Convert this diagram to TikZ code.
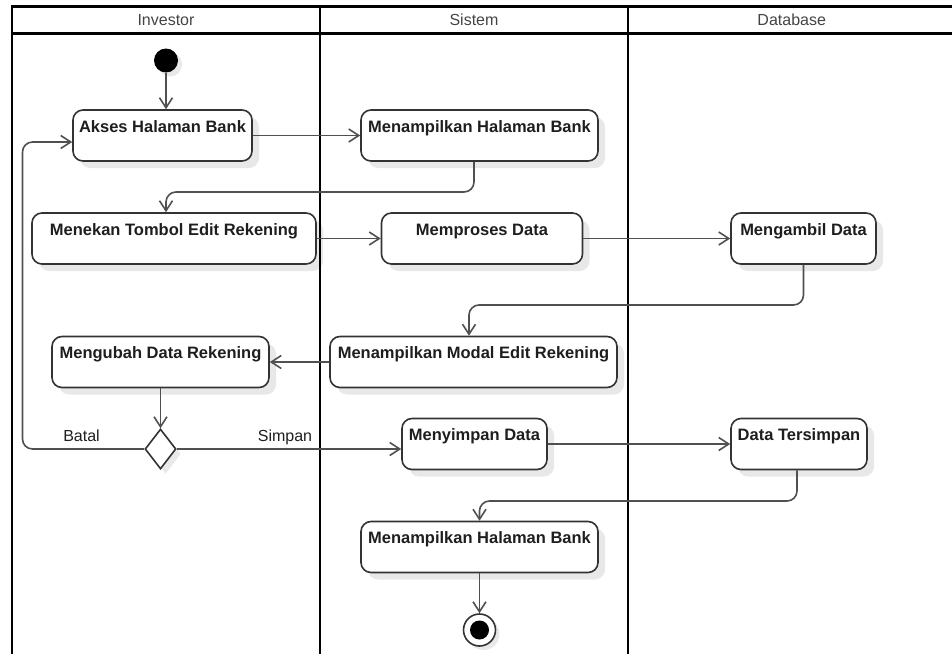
\documentclass[tikz,border=0pt]{standalone}
\usepackage{fontspec}
\setmainfont{Liberation Sans}
\usetikzlibrary{arrows.meta,shapes.geometric,shadows}
\definecolor{boxc}{HTML}{333333}
\definecolor{linec}{HTML}{505050}
\definecolor{txtc}{HTML}{1E1E1E}
\definecolor{headc}{HTML}{444444}
\definecolor{shadc}{HTML}{E8E8E8}

\begin{document}
\begin{tikzpicture}[x=1pt,y=-1pt,
  lane/.style={draw=black,line width=2.8pt},
  headtext/.style={font=\fontsize{16}{19}\selectfont,text=headc,anchor=base,inner sep=0pt},
  guard/.style={font=\fontsize{16}{19}\selectfont,text=txtc,anchor=base,inner sep=0pt},
  shade/.style={drop shadow={shadow xshift=#1,shadow yshift=-#1,fill=shadc,opacity=1}},
  act/.style={draw=boxc,line width=1.6pt,rounded corners=10pt,fill=white,
    font=\fontsize{16.5}{20}\selectfont\bfseries,text=txtc,
    inner xsep=0pt,inner ysep=0pt,text height=22pt,text depth=29pt,
    minimum height=51pt,shade=7pt},
  decide/.style={diamond,draw=boxc,line width=1.6pt,fill=white,
    minimum width=31pt,minimum height=40pt,inner sep=0pt,shade=5pt},
  startdot/.style={circle,fill=black,minimum size=24pt,inner sep=0pt,shade=4pt},
  endring/.style={circle,draw=boxc,line width=1.6pt,fill=white,minimum size=32pt,inner sep=0pt,shade=4pt},
  enddot/.style={circle,fill=black,minimum size=19pt,inner sep=0pt},
  flow/.style={draw=linec,line width=1.6pt,rounded corners=10pt,
    -{Straight Barb[length=10pt,width=13pt]}}
]
\useasboundingbox (0,0) rectangle (952,653);
\clip (0,0) rectangle (952,653);

% activities
\node[startdot] (start) at (166,60.5) {};
\node[act,minimum width=179pt] (akses) at (162.5,135.5) {Akses Halaman Bank};
\node[act,minimum width=237pt] (tampilA) at (479.5,135.5) {Menampilkan Halaman Bank};
\node[act,minimum width=284pt] (tekan) at (174,238.5) {Menekan Tombol Edit Rekening};
\node[act,minimum width=201pt] (proses) at (482,238.5) {Memproses Data};
\node[act,minimum width=145pt] (ambil) at (803.5,238.5) {Mengambil Data};
\node[act,minimum width=217pt] (ubah) at (160.5,362) {Mengubah Data Rekening};
\node[act,minimum width=287pt] (modal) at (473.5,362) {Menampilkan Modal Edit Rekening};
\node[decide] (pilih) at (160.5,449) {};
\node[act,minimum width=145pt] (simpan) at (474.5,444) {Menyimpan Data};
\node[act,minimum width=136pt] (tersimpan) at (799,444) {Data Tersimpan};
\node[act,minimum width=237pt] (tampilB) at (479.5,547) {Menampilkan Halaman Bank};
\node[endring] (stop) at (479.5,630) {};
\node[enddot] (stopcore) at (stop.center) {};

% swimlanes
\draw[lane] (12,6.7) -- (960,6.7);
\draw[lane] (12,33.7) -- (960,33.7);
\draw[lane] (12,5.3) -- (12,660);
\draw[lane] (320,5.3) -- (320,660);
\draw[lane] (628,5.3) -- (628,660);
\node[headtext] (hInv) at (166,25) {Investor};
\node[headtext] (hSis) at (474,25) {Sistem};
\node[headtext] (hDb) at (791.7,25) {Database};

% guards
\node[guard] (gBatal) at (81.5,441) {Batal};
\node[guard] (gSimpan) at (285,441) {Simpan};

% bend points
\coordinate (k1) at (474,192);
\coordinate (k2) at (166,192);
\coordinate (m1) at (803.5,305);
\coordinate (m2) at (469,305);
\coordinate (b1) at (22.5,449);
\coordinate (b2) at (22.5,142);
\coordinate (t1) at (797,501);
\coordinate (t2) at (479.5,501);

% control flow
\draw[flow] (start) -- (start |- akses.north);
\draw[flow] (akses) -- (tampilA);
\draw[flow] (tampilA.south -| k1) -- (k1) -- (k2) -- (k2 |- tekan.north);
\draw[flow] (tekan) -- (proses);
\draw[flow] (proses) -- (ambil);
\draw[flow] (ambil.south) -- (m1) -- (m2) -- (m2 |- modal.north);
\draw[flow] (modal) -- (ubah);
\draw[flow] (ubah) -- (pilih);
\draw[flow] (pilih.west) -- (b1) -- (b2) -- (b2 -| akses.west);
\draw[flow] (pilih.east) -- (pilih.east -| simpan.west);
\draw[flow] (simpan) -- (tersimpan);
\draw[flow] (tersimpan.south -| t1) -- (t1) -- (t2) -- (t2 |- tampilB.north);
\draw[flow] (tampilB) -- (stop);
\end{tikzpicture}
\end{document}
